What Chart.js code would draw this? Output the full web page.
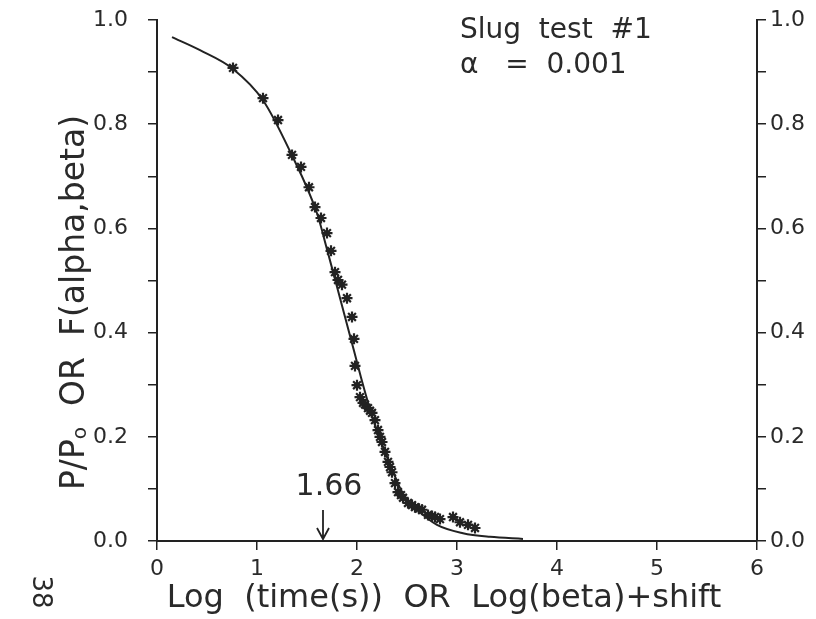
<!DOCTYPE html>
<html>
<head>
<meta charset="utf-8">
<script src="https://cdn.jsdelivr.net/npm/chart.js@4.4.0/dist/chart.umd.min.js"></script>
<style>
  html, body { margin: 0; padding: 0; background: #fff; }
  #wrap { width: 816px; height: 619px; }
</style>
</head>
<body>
<div id="wrap"><canvas id="slugChart" width="816" height="619"></canvas></div>
<script>
// type curve F(alpha,beta) against Log(beta)+shift
const curveX = [0.15, 0.43, 0.76, 1.06, 1.33, 1.60, 1.70, 1.80, 1.93, 1.97, 2.00, 2.04, 2.08, 2.14, 2.20, 2.27, 2.33, 2.38, 2.43, 2.50, 2.60, 2.80, 3.06, 3.33, 3.66];
const curveY = [0.967, 0.942, 0.906, 0.846, 0.748, 0.629, 0.560, 0.488, 0.394, 0.365, 0.343, 0.314, 0.286, 0.246, 0.212, 0.176, 0.147, 0.124, 0.102, 0.079, 0.060, 0.031, 0.015, 0.008, 0.004];

// measured P/P0 against Log(time(s))
const obsX = [0.76, 1.06, 1.21, 1.35, 1.44, 1.52, 1.58, 1.64, 1.70, 1.74, 1.78, 1.81, 1.85, 1.90, 1.95, 1.97, 1.98, 2.00, 2.03, 2.06,
              2.08, 2.11, 2.13, 2.15, 2.18, 2.21, 2.23, 2.25, 2.28, 2.31, 2.33, 2.35, 2.38, 2.41, 2.44, 2.46, 2.51, 2.55, 2.58, 2.62,
              2.65, 2.71, 2.75, 2.78, 2.83, 2.96, 3.03, 3.11, 3.18];
const obsY = [0.908, 0.850, 0.808, 0.741, 0.718, 0.679, 0.641, 0.620, 0.591, 0.557, 0.516, 0.501, 0.492, 0.466, 0.430, 0.388, 0.336, 0.299, 0.276, 0.265,
              0.262, 0.255, 0.250, 0.246, 0.232, 0.213, 0.200, 0.190, 0.171, 0.152, 0.142, 0.132, 0.111, 0.094, 0.088, 0.083, 0.073, 0.069, 0.065, 0.062,
              0.060, 0.050, 0.048, 0.046, 0.042, 0.046, 0.036, 0.031, 0.025];

const xTickValues = [0, 1, 2, 3, 4, 5, 6];
const yTickValues = [0, 0.1, 0.2, 0.3, 0.4, 0.5, 0.6, 0.7, 0.8, 0.9, 1.0];
const yTickLabels = ['0.0', '', '0.2', '', '0.4', '', '0.6', '', '0.8', '', '1.0'];

const shiftValue = 1.66;
const noteLines = ['Slug  test  #1', 'α   =  0.001'];
const xTitle = 'Log  (time(s))  OR  Log(beta)+shift';
const yTitleParts = ['P/P', 'o', '  OR  F(alpha,beta)'];
const pageNumber = '38';

const ink = '#222';
const textInk = '#2a2a2a';
const fontFamily = '"DejaVu Sans", "Liberation Sans", sans-serif';

const curveData = curveX.map((x, i) => ({ x: x, y: curveY[i] }));
const obsData = obsX.map((x, i) => ({ x: x, y: obsY[i] }));

function yAxis(pos, width, pad) {
    return {
        type: 'linear',
        position: pos,
        display: true,
        min: 0,
        max: 1,
        afterBuildTicks: (scale) => { scale.ticks = yTickValues.map(v => ({ value: v })); },
        afterFit: (scale) => {
            scale.width = width;
            // don't let the tick padding push the plot down
            scale.paddingTop = 0;
            scale.paddingBottom = 0;
        },
        ticks: {
            autoSkip: false,
            padding: pad,
            color: textInk,
            font: { family: fontFamily, size: 22 },
            callback: (value, index) => yTickLabels[index]
        },
        grid: { display: true, drawOnChartArea: false, drawTicks: true, tickLength: 9, color: ink, lineWidth: 1.5 },
        border: { display: true, color: ink, width: 2 }
    };
}

// notes, axis titles and the 1.66 marker
const textPlugin = {
    id: 'slugText',
    afterDraw(chart) {
        const { ctx, chartArea: a, scales } = chart;
        ctx.save();
        ctx.fillStyle = textInk;
        ctx.strokeStyle = ink;

        ctx.font = '28px ' + fontFamily;
        ctx.textAlign = 'left';
        ctx.textBaseline = 'alphabetic';
        ctx.fillText(noteLines[0], a.left + 303, a.top + 18);
        ctx.fillText(noteLines[1], a.left + 303, a.top + 53);

        // shift marker
        const px = scales.x.getPixelForValue(shiftValue);
        ctx.font = '30px ' + fontFamily;
        ctx.textAlign = 'center';
        ctx.fillText(shiftValue.toFixed(2), px + 6, a.bottom - 46);
        ctx.lineWidth = 1.8;
        ctx.beginPath();
        ctx.moveTo(px, a.bottom - 31);
        ctx.lineTo(px, a.bottom - 2);
        ctx.moveTo(px - 6, a.bottom - 13);
        ctx.lineTo(px, a.bottom - 2);
        ctx.lineTo(px + 6, a.bottom - 13);
        ctx.stroke();

        // x title
        ctx.font = '32px ' + fontFamily;
        ctx.textAlign = 'center';
        ctx.fillText(xTitle, a.left + 287, a.bottom + 66);

        // y title, rotated
        ctx.save();
        ctx.translate(84, (a.top + a.bottom) / 2 + 22);
        ctx.rotate(-Math.PI / 2);
        ctx.textAlign = 'left';
        ctx.font = '33px ' + fontFamily;
        const w1 = ctx.measureText(yTitleParts[0]).width;
        const w3 = ctx.measureText(yTitleParts[2]).width;
        ctx.font = '20px ' + fontFamily;
        const w2 = ctx.measureText(yTitleParts[1]).width;
        let sx = -(w1 + w2 + w3) / 2;
        ctx.font = '33px ' + fontFamily;
        ctx.fillText(yTitleParts[0], sx, 0);
        ctx.font = '20px ' + fontFamily;
        ctx.fillText(yTitleParts[1], sx + w1, 2);
        ctx.font = '33px ' + fontFamily;
        ctx.fillText(yTitleParts[2], sx + w1 + w2, 0);
        ctx.restore();

        // page number at the margin
        ctx.save();
        ctx.translate(40, 592);
        ctx.rotate(Math.PI / 2);
        ctx.font = '26px ' + fontFamily;
        ctx.textAlign = 'center';
        ctx.textBaseline = 'middle';
        ctx.fillText(pageNumber, 0, 0);
        ctx.restore();

        ctx.restore();
    }
};

new Chart(document.getElementById('slugChart'), {
    type: 'scatter',
    data: {
        datasets: [
            {
                label: 'F(alpha,beta)',
                data: curveData,
                showLine: true,
                cubicInterpolationMode: 'monotone',
                borderColor: ink,
                borderWidth: 2,
                pointRadius: 0,
                yAxisID: 'y'
            },
            {
                label: 'P/Po',
                data: obsData,
                showLine: false,
                pointStyle: 'star',
                pointRadius: 5.5,
                borderColor: ink,
                backgroundColor: ink,
                borderWidth: 2.2,
                yAxisID: 'y'
            }
        ]
    },
    options: {
        responsive: false,
        animation: false,
        devicePixelRatio: 1,
        layout: { autoPadding: false, padding: { top: 20, left: 0, right: 0, bottom: 0 } },
        plugins: {
            legend: { display: false },
            tooltip: { enabled: false }
        },
        scales: {
            x: {
                type: 'linear',
                position: 'bottom',
                min: 0,
                max: 6,
                afterBuildTicks: (scale) => { scale.ticks = xTickValues.map(v => ({ value: v })); },
                afterFit: (scale) => { scale.height = 78; },
                ticks: {
                    autoSkip: false,
                    maxRotation: 0,
                    padding: 6,
                    color: textInk,
                    font: { family: fontFamily, size: 22 },
                    callback: (value) => String(value)
                },
                grid: { display: true, drawOnChartArea: false, drawTicks: true, tickLength: 9, color: ink, lineWidth: 1.5 },
                border: { display: true, color: ink, width: 2 }
            },
            y: yAxis('left', 157, 20),
            y2: yAxis('right', 59, 4)
        }
    },
    plugins: [textPlugin]
});
</script>
</body>
</html>
